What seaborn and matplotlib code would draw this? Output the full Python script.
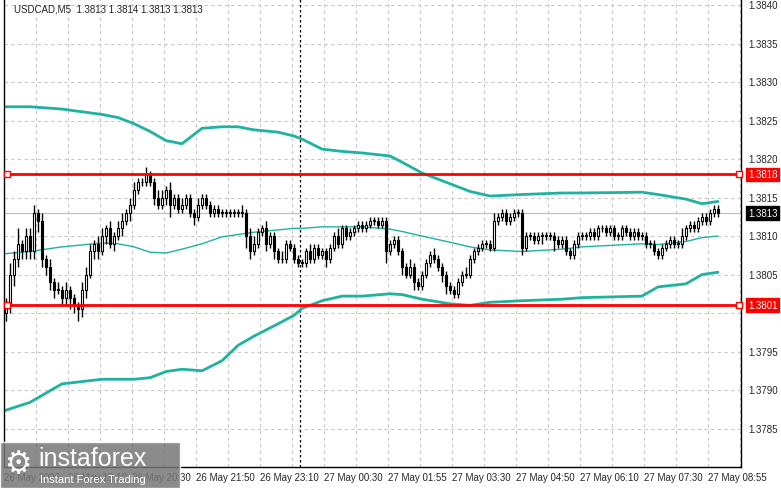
import matplotlib
matplotlib.use("Agg")
import matplotlib.pyplot as plt
import seaborn as sns
import pandas as pd

# closes in pips above 1.3800, one per M5 bar
closes = [1, 5, 7, 9, 8, 10, 8, 13, 12, 7,
          6, 4, 3, 3, 2, 3, 2, 1, 0.5, 3,
          5, 8, 9, 8, 10, 11, 9, 10, 11, 12,
          13, 14, 16, 17, 17, 18, 17, 15, 14, 15,
          16, 14, 15, 13.5, 14, 15, 13, 12.5, 14, 15,
          14, 13, 13.5, 13, 13, 13, 13, 13, 13, 13,
          10, 8, 9, 10.5, 11, 9, 10, 8, 7, 7,
          9, 8.5, 7, 6.5, 6.5, 8, 7, 8.5, 7.5, 8,
          7, 8.5, 10, 9, 11, 10, 10.5, 11, 11.5, 11,
          11.5, 12, 12, 11.5, 12, 8, 9, 9.5, 8, 6,
          5, 6, 4, 3.5, 5, 6.5, 7.5, 7, 6, 5,
          3.5, 3, 2.5, 4, 5, 5, 7, 8, 8.5, 9,
          9, 8.5, 12, 12.5, 13, 12, 12.5, 13, 13, 8.5,
          10, 10, 9.5, 10, 10, 10, 10, 9.5, 9, 9.5,
          8, 7.5, 9, 10, 10, 10, 10.5, 10, 11, 11,
          10.5, 11, 10, 10, 11, 10.5, 10, 10.5, 10, 10,
          9, 9, 8, 7.5, 8.5, 9, 9.5, 9, 9, 10,
          11, 11.5, 11, 12, 12.5, 12, 13, 13.5, 13]
wick_up = [1, 1.5, 1, 2, 0.5, 1, 1, 1, 0.5, 1,
           0.5, 1, 0.5, 1, 0.5, 1, 0.5, 0.5, 0.5, 1,
           1, 1, 0.5, 1, 1, 0.5, 1, 0.5, 1, 1,
           0.5, 1, 1, 0.5, 0.5, 1, 0.5, 0.5, 1, 1,
           0.5, 1, 0.5, 0.5, 1, 0.5, 0.5, 0.5, 1, 0.5,
           0.5, 0.5, 0.5, 0.5, 0.5, 0.5, 0.5, 0.5, 0.5, 1,
           0.5, 1, 1, 0.5, 0.5, 1, 0.5, 0.5, 0.5, 1,
           0.5, 0.5, 0.5, 0.5, 0.5, 0.5, 1, 0.5, 0.5, 0.5,
           0.5, 0.5, 0.5, 1, 0.5, 0.5, 0.5, 0.5, 0.5, 0.5,
           0.5, 0.5, 0.5, 0.5, 0.5, 0.5, 0.5, 0.5, 0.5, 0.5,
           0.5, 1, 0.5, 0.5, 0.5, 0.5, 0.5, 1, 0.5, 0.5,
           0.5, 0.5, 0.5, 0.5, 0.5, 1, 0.5, 0.5, 0.5, 0.5,
           0.5, 0.5, 1, 0.5, 0.5, 0.5, 0.5, 0.5, 0.5, 0.5,
           0.5, 0.5, 0.5, 0.5, 0.5, 0.5, 0.5, 0.5, 0.5, 0.5,
           0.5, 0.5, 0.5, 0.5, 0.5, 0.5, 0.5, 0.5, 0.5, 0.5,
           0.5, 0.5, 0.5, 0.5, 0.5, 0.5, 0.5, 0.5, 0.5, 0.5,
           0.5, 0.5, 0.5, 0.5, 0.5, 0.5, 0.5, 0.5, 0.5, 1,
           0.5, 0.5, 0.5, 0.5, 0.5, 0.5, 0.5, 0.5, 0.5]
wick_dn = [1, 1, 1.5, 1, 1, 1, 1, 1, 1.5, 1,
           1, 1, 1, 0.5, 1, 1, 1.5, 1, 1.5, 1,
           1, 0.5, 1, 1, 0.5, 1, 0.5, 1, 0.5, 1,
           0.5, 1, 0.5, 0.5, 0.5, 0.5, 0.5, 1, 0.5, 0.5,
           1, 1.5, 0.5, 0.5, 0.5, 0.5, 0.5, 1, 0.5, 0.5,
           0.5, 0.5, 0.5, 0.5, 0.5, 0.5, 0.5, 0.5, 0.5, 0.5,
           1.5, 1, 0.5, 0.5, 0.5, 1, 0.5, 1, 0.5, 0.5,
           0.5, 0.5, 0.5, 0.5, 0.5, 0.5, 0.5, 0.5, 0.5, 0.5,
           1, 0.5, 0.5, 0.5, 0.5, 0.5, 0.5, 0.5, 0.5, 0.5,
           0.5, 0.5, 0.5, 0.5, 0.5, 1.5, 0.5, 0.5, 0.5, 1,
           0.5, 0.5, 1, 0.5, 0.5, 0.5, 0.5, 0.5, 0.5, 1,
           1, 0.5, 0.5, 0.5, 0.5, 0.5, 0.5, 0.5, 0.5, 0.5,
           0.5, 0.5, 0.5, 0.5, 0.5, 0.5, 0.5, 0.5, 0.5, 1,
           0.5, 0.5, 0.5, 0.5, 1, 0.5, 0.5, 1.5, 0.5, 0.5,
           0.5, 0.5, 0.5, 0.5, 0.5, 0.5, 0.5, 0.5, 0.5, 0.5,
           0.5, 0.5, 0.5, 0.5, 0.5, 0.5, 0.5, 0.5, 0.5, 0.5,
           0.5, 0.5, 0.5, 0.5, 0.5, 0.5, 0.5, 0.5, 0.5, 0.5,
           0.5, 0.5, 0.5, 0.5, 0.5, 0.5, 0.5, 0.5, 0.5]

# Bollinger bands read at a few bar positions (pips above 1.3800)
band_x = [-0.5, 6, 14, 24, 28, 32, 36, 40, 44, 49, 54, 58, 62, 68, 72, 74, 79,
          84, 89, 96, 99, 104, 111, 116, 121, 129, 139, 144, 159, 163, 170, 174, 178]
upper = [26.8, 26.8, 26.5, 25.8, 25.4, 24.6, 23.6, 22.4, 22.0, 24.0, 24.2, 24.2,
         23.8, 23.5, 23.0, 22.6, 21.3, 21.0, 20.8, 20.4, 19.6, 18.2, 16.8, 15.8,
         15.2, 15.4, 15.6, 15.6, 15.7, 15.4, 14.8, 14.2, 14.5]
middle = [7.7, 8.0, 8.6, 9.1, 9.0, 8.6, 7.9, 7.8, 8.3, 9.0, 9.9, 10.2, 10.5, 10.8,
          11.0, 11.0, 11.2, 11.2, 11.2, 10.9, 10.6, 10.0, 9.2, 8.6, 8.2, 8.0, 8.3,
          8.6, 9.0, 8.9, 9.3, 9.8, 10.0]
lower = [-12.7, -11.6, -9.2, -8.6, -8.6, -8.6, -8.4, -7.6, -7.3, -7.5, -6.2, -4.2,
         -3.0, -1.4, -0.3, 0.6, 1.6, 2.2, 2.2, 2.5, 2.4, 1.8, 1.2, 1.0, 1.4, 1.6,
         1.8, 2.0, 2.2, 3.4, 3.8, 5.0, 5.3]

time_labels = ["26 May 2026", "26 May 19:10", "26 May 20:30", "26 May 21:50",
               "26 May 23:10", "27 May 00:30", "27 May 01:55", "27 May 03:30",
               "27 May 04:50", "27 May 06:10", "27 May 07:30", "27 May 08:55"]
price_ticks = [1.3785, 1.3790, 1.3795, 1.3800, 1.3805, 1.3810, 1.3815,
               1.3820, 1.3825, 1.3830, 1.3835, 1.3840]
levels = [1.3818, 1.3801]
last_price = 1.3813

base = 1.3800
pip = 0.0001
ymin, ymax = 1.37800, 1.38408

sns.set_style("white")
plt.rcParams["font.family"] = ["Liberation Sans", "DejaVu Sans"]

fig = plt.figure(figsize=(7.81, 4.89), dpi=100)
ax = fig.add_axes([4 / 781, 21 / 489, 737 / 781, 468 / 489])
ax.set_xlim(-0.5, 183.75)
ax.set_ylim(ymin, ymax)

# grid
for gx in range(7, 184, 8):
    ax.axvline(gx + 0.5, color="#c8c8c8", lw=0.8, ls=(0, (3, 3)), zorder=0)
for p in price_ticks:
    ax.axhline(p, color="#c8c8c8", lw=0.8, ls=(0, (3, 3)), zorder=0)
ax.axvline(73.5, color="black", lw=0.9, ls=(0, (2, 2)), zorder=1)
ax.axhline(last_price, color="#c0c0c0", lw=0.9, zorder=1)

# bands
bands = pd.DataFrame({"x": band_x,
                      "upper": [base + v * pip for v in upper],
                      "middle": [base + v * pip for v in middle],
                      "lower": [base + v * pip for v in lower]})
teal = "#20b2a0"
sns.lineplot(data=bands, x="x", y="upper", ax=ax, color=teal, lw=2, zorder=2)
sns.lineplot(data=bands, x="x", y="middle", ax=ax, color=teal, lw=1, zorder=2)
sns.lineplot(data=bands, x="x", y="lower", ax=ax, color=teal, lw=2, zorder=2)

# candles
prev = 0.0
for i, (c, u, d) in enumerate(zip(closes, wick_up, wick_dn)):
    o = prev
    top = max(o, c)
    bot = min(o, c)
    ax.vlines(i, base + (bot - d) * pip, base + (top + u) * pip, color="black", lw=1, zorder=3)
    h = max(top - bot, 0.08) * pip
    face = "white" if c >= o else "black"
    ax.add_patch(plt.Rectangle((i - 0.35, base + bot * pip), 0.7, h,
                               facecolor=face, edgecolor="black", lw=0.8, zorder=4))
    prev = c

# support / resistance
for lv in levels:
    ax.axhline(lv, color="red", lw=2, zorder=5)
    for px in (0.2, 183.2):
        ax.plot([px], [lv], marker="s", ms=4, mfc="white", mec="red", mew=1, zorder=6,
                clip_on=False)

ax.set_xticks([])
ax.set_yticks([])
ax.set_xlabel("")
ax.set_ylabel("")
ax.spines["top"].set_visible(False)
for s in ["left", "right", "bottom"]:
    ax.spines[s].set_color("black")
    ax.spines[s].set_linewidth(1)

# right price axis
for p in price_ticks:
    if abs(p - 1.3800) < 1e-9:
        continue
    ax.text(185.5, p, f"{p:.4f}", fontsize=7, va="center", ha="left", clip_on=False)
for lv in levels:
    ax.text(185.5, lv, f"{lv:.4f}", fontsize=7, va="center", ha="left", color="white",
            bbox=dict(boxstyle="square,pad=0.2", fc="red", ec="red"), clip_on=False)
ax.text(185.5, last_price, f"{last_price:.4f}", fontsize=7, va="center", ha="left",
        color="white", bbox=dict(boxstyle="square,pad=0.2", fc="black", ec="black"),
        clip_on=False)

# time axis
for k, lab in enumerate(time_labels):
    ax.text(-0.5 + k * 16, ymin - 0.00006, lab, fontsize=7, va="top", ha="left",
            clip_on=False)

ax.text(2, ymax - 0.00006, "USDCAD,M5  1.3813 1.3814 1.3813 1.3813", fontsize=7,
        va="top", ha="left", zorder=7)

# logo
fig.patches.append(plt.Rectangle((0, 0), 180 / 781, 46 / 489, transform=fig.transFigure,
                                 fc="#777777", alpha=0.85, zorder=10))
fig.text(38 / 781, 30 / 489, "instaforex", fontsize=18, color="white", va="center",
         ha="left", zorder=11)
fig.text(40 / 781, 9 / 489, "Instant Forex Trading", fontsize=8, color="white",
         va="center", ha="left", zorder=11)
fig.text(18 / 781, 24 / 489, "\u2699", fontsize=22, color="white", va="center",
         ha="center", family="DejaVu Sans", zorder=11)

fig.savefig("out.png", dpi=100)
